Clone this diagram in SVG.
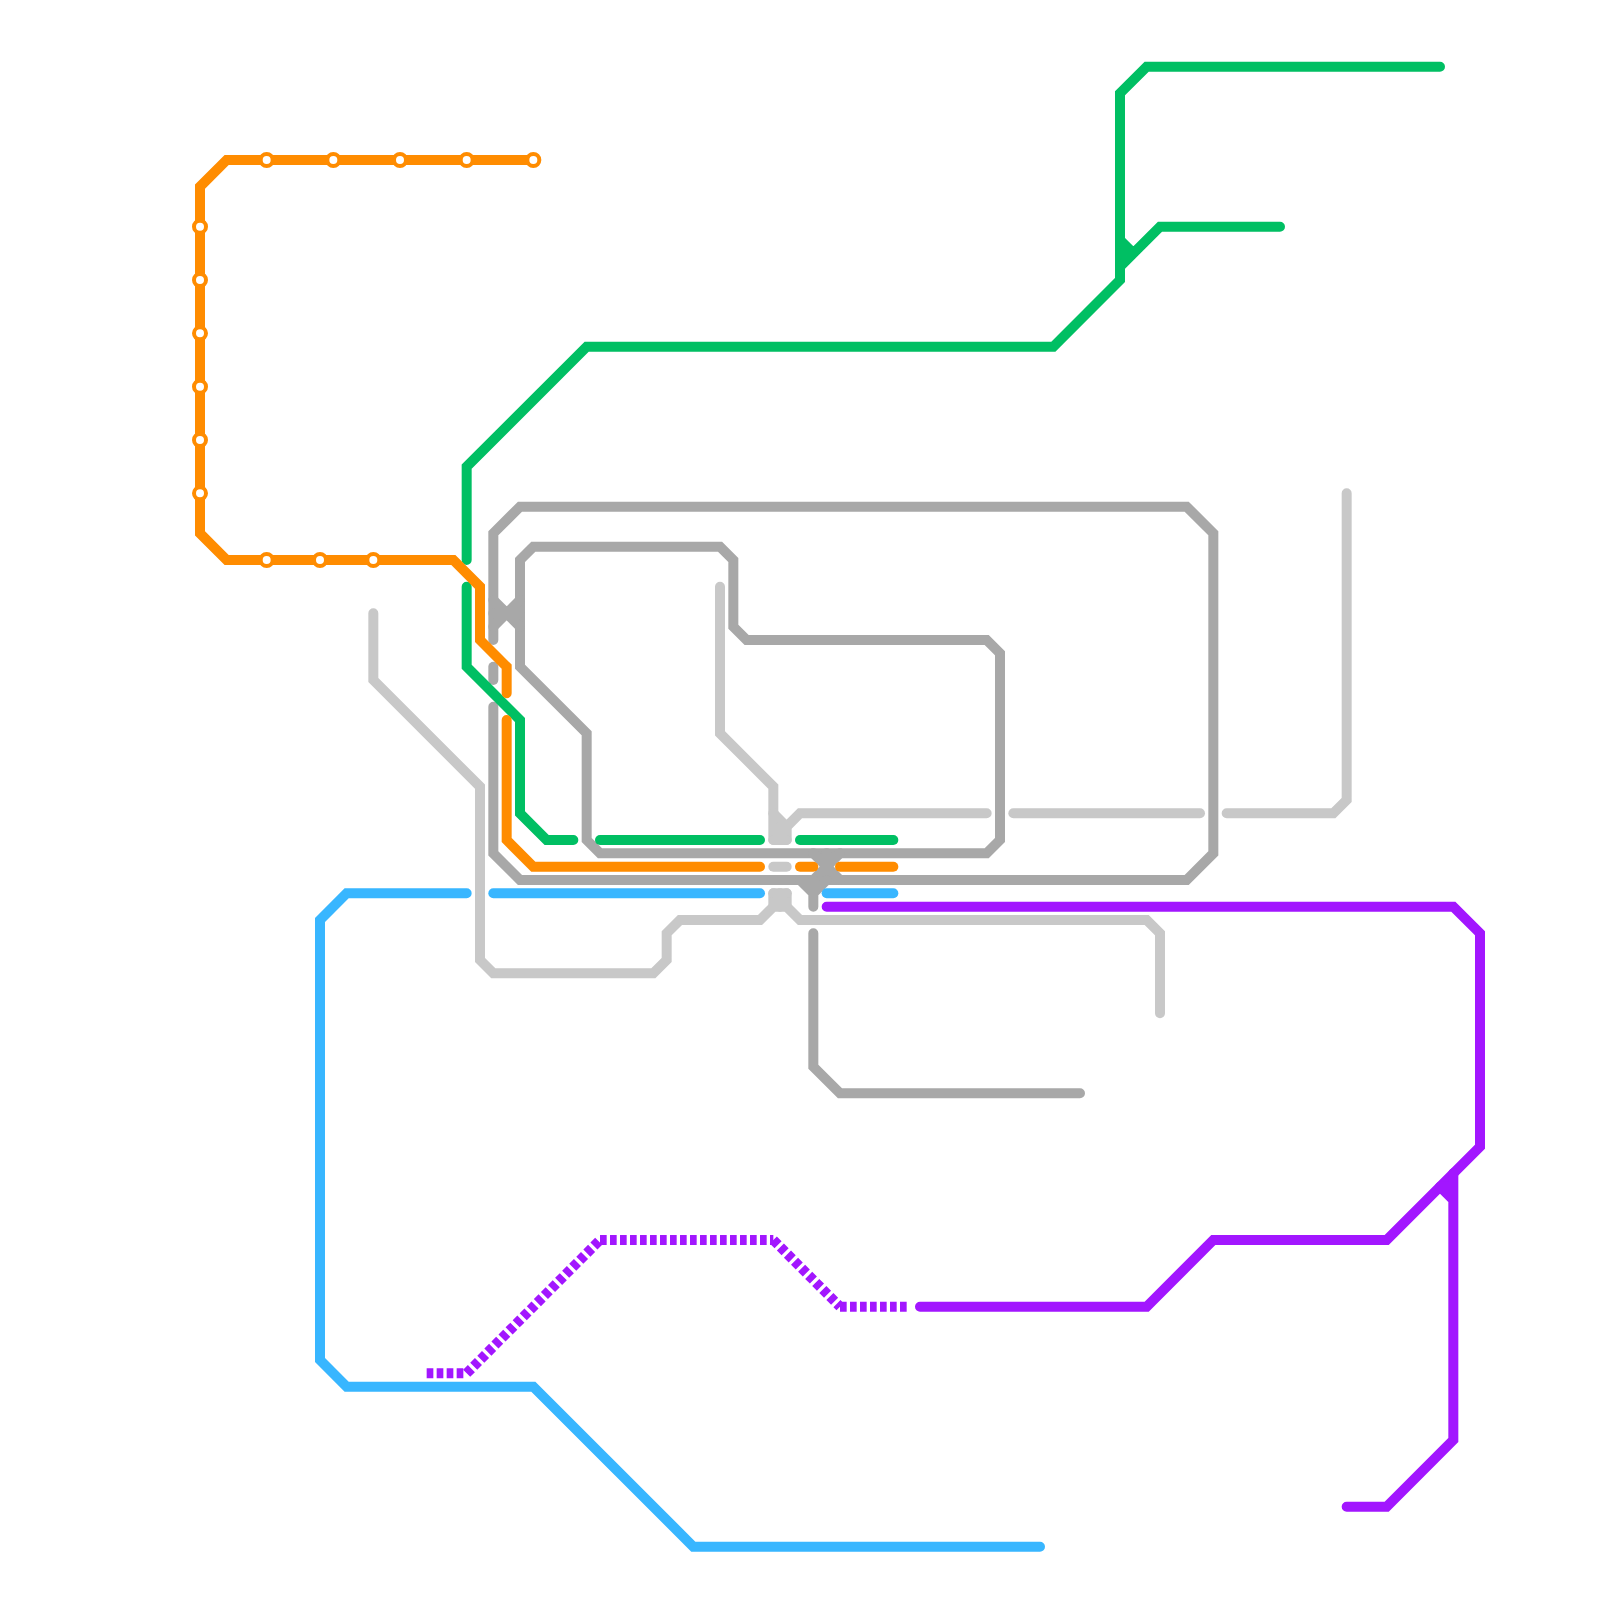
<svg xmlns="http://www.w3.org/2000/svg" width="1600" height="1600" viewBox="0 0 1600 1600">
<style>
.l{fill:none;stroke-width:10;stroke-linecap:round;stroke-linejoin:miter;stroke-miterlimit:10}
.d{fill:none;stroke-width:10;stroke-linecap:butt;stroke-dasharray:6.67 3.33;stroke:#a216ff}
.gr{stroke:#a8a8a8}.lg{stroke:#c8c8c8}.gn{stroke:#00bf63}.or{stroke:#ff8c00}.bl{stroke:#38b6ff}.pu{stroke:#a216ff}
.st{fill:#fff;stroke:#ff8c00;stroke-width:4}
</style>
<rect width="1600" height="1600" fill="#fff"/>
<g id="connectors">
<g id="grey-lines">
<path class="l gr" d="M493.33 706.67V853.33L520 880H1186.67L1213.33 853.33V533.33L1186.67 506.67H520L493.33 533.33V640"/>
<path class="l gr" d="M493.33 666.67V680"/>
<path class="l gr" d="M520 560L533.33 546.67H720L733.33 560V626.67L746.67 640H986.67L1000 653.33V840L986.67 853.33H600L586.67 840V733.33L520 666.67Z"/>
<path class="l gr" d="M493.33 600L520 626.67M520 600L493.33 626.67M493.33 613.33H520"/>
<path class="l gr" d="M813.33 853.33L840 880M840 853.33L813.33 880M826.67 853.33V880"/>
<path class="l gr" d="M800 880L813.33 893.33V906.67M813.33 893.33L826.67 880M813.33 880V893.33"/>
<path class="l gr" d="M813.33 933.33V1066.67L840 1093.33H1080"/>
</g>
<g id="light-grey-lines">
<path class="l lg" d="M373.33 613.33V680L480 786.67V960L493.33 973.33H653.33L666.67 960V933.33L680 920H760L773.33 906.67H786.67L800 920H1146.67L1160 933.33V1013.33"/>
<path class="l lg" d="M773.33 893.33V906.67"/>
<path class="l lg" d="M786.67 893.33V906.67"/>
<path class="l lg" d="M773.33 893.33H786.67"/>
<path class="l lg" d="M780 893.33V906.67"/>
<path class="l lg" d="M720 586.67V733.33L773.33 786.67V840"/>
<path class="l lg" d="M786.67 840V826.67L800 813.33H986.67"/>
<path class="l lg" d="M773.33 813.33L786.67 826.67"/>
<path class="l lg" d="M780 826.67V840"/>
<path class="l lg" d="M773.33 840H786.67"/>
<path class="l lg" d="M773.33 866.67H786.67"/>
<path class="l lg" d="M1013.33 813.33H1200"/>
<path class="l lg" d="M1226.67 813.33H1333.33L1346.67 800V493.33"/>
</g>
<g id="green-lines">
<path class="l gn" d="M1440 66.67H1146.67L1120 93.33V280L1053.33 346.67H586.67L466.67 466.67V560"/>
<path class="l gn" d="M1280 226.67H1160L1120 266.67M1120 240L1133.33 253.33M1120 253.33H1133.33"/>
<path class="l gn" d="M466.67 586.67V666.67L520 720V813.33L546.67 840H573.33"/>
<path class="l gn" d="M600 840H760"/>
<path class="l gn" d="M800 840H893.33"/>
</g>
<g id="orange-lines">
<path class="l or" d="M533.33 160H226.67L200 186.67V533.33L226.67 560H453.33L480 586.67V640L506.67 666.67V693.33"/>
<path class="l or" d="M506.67 720V840L533.33 866.67H760"/>
<path class="l or" d="M800 866.67H813.33"/>
<path class="l or" d="M840 866.67H893.33"/>
</g>
<g id="blue-lines">
<path class="l bl" d="M466.67 893.33H346.67L320 920V1360L346.67 1386.67H533.33L693.33 1546.67H1040"/>
<path class="l bl" d="M493.33 893.33H760"/>
<path class="l bl" d="M826.67 893.33H893.33"/>
</g>
<g id="purple-lines">
<path class="l pu" d="M826.67 906.67H1453.33L1480 933.33V1146.67L1386.67 1240H1213.33L1146.67 1306.67H920"/>
<path class="l pu" d="M1346.67 1506.67H1386.67L1453.33 1440V1173.33M1440 1186.67L1453.33 1200M1440 1186.67H1453.33"/>
<path class="d" d="M426.67 1373.33H466.67"/>
<path class="d" d="M466.67 1373.33L600 1240"/>
<path class="d" d="M600 1240H773.33"/>
<path class="d" d="M773.33 1240L840 1306.67"/>
<path class="d" d="M840 1306.67H906.67"/>
</g>
</g>
<g id="st-t1"><circle class="st" cx="266.67" cy="160" r="6"/></g>
<g id="st-t2"><circle class="st" cx="333.33" cy="160" r="6"/></g>
<g id="st-t3"><circle class="st" cx="400" cy="160" r="6"/></g>
<g id="st-t4"><circle class="st" cx="466.67" cy="160" r="6"/></g>
<g id="st-t5"><circle class="st" cx="533.33" cy="160" r="6"/></g>
<g id="st-l1"><circle class="st" cx="200" cy="226.67" r="6"/></g>
<g id="st-l2"><circle class="st" cx="200" cy="280" r="6"/></g>
<g id="st-l3"><circle class="st" cx="200" cy="333.33" r="6"/></g>
<g id="st-l4"><circle class="st" cx="200" cy="386.67" r="6"/></g>
<g id="st-l5"><circle class="st" cx="200" cy="440" r="6"/></g>
<g id="st-l6"><circle class="st" cx="200" cy="493.33" r="6"/></g>
<g id="st-b1"><circle class="st" cx="266.67" cy="560" r="6"/></g>
<g id="st-b2"><circle class="st" cx="320" cy="560" r="6"/></g>
<g id="st-b3"><circle class="st" cx="373.33" cy="560" r="6"/></g>
</svg>
